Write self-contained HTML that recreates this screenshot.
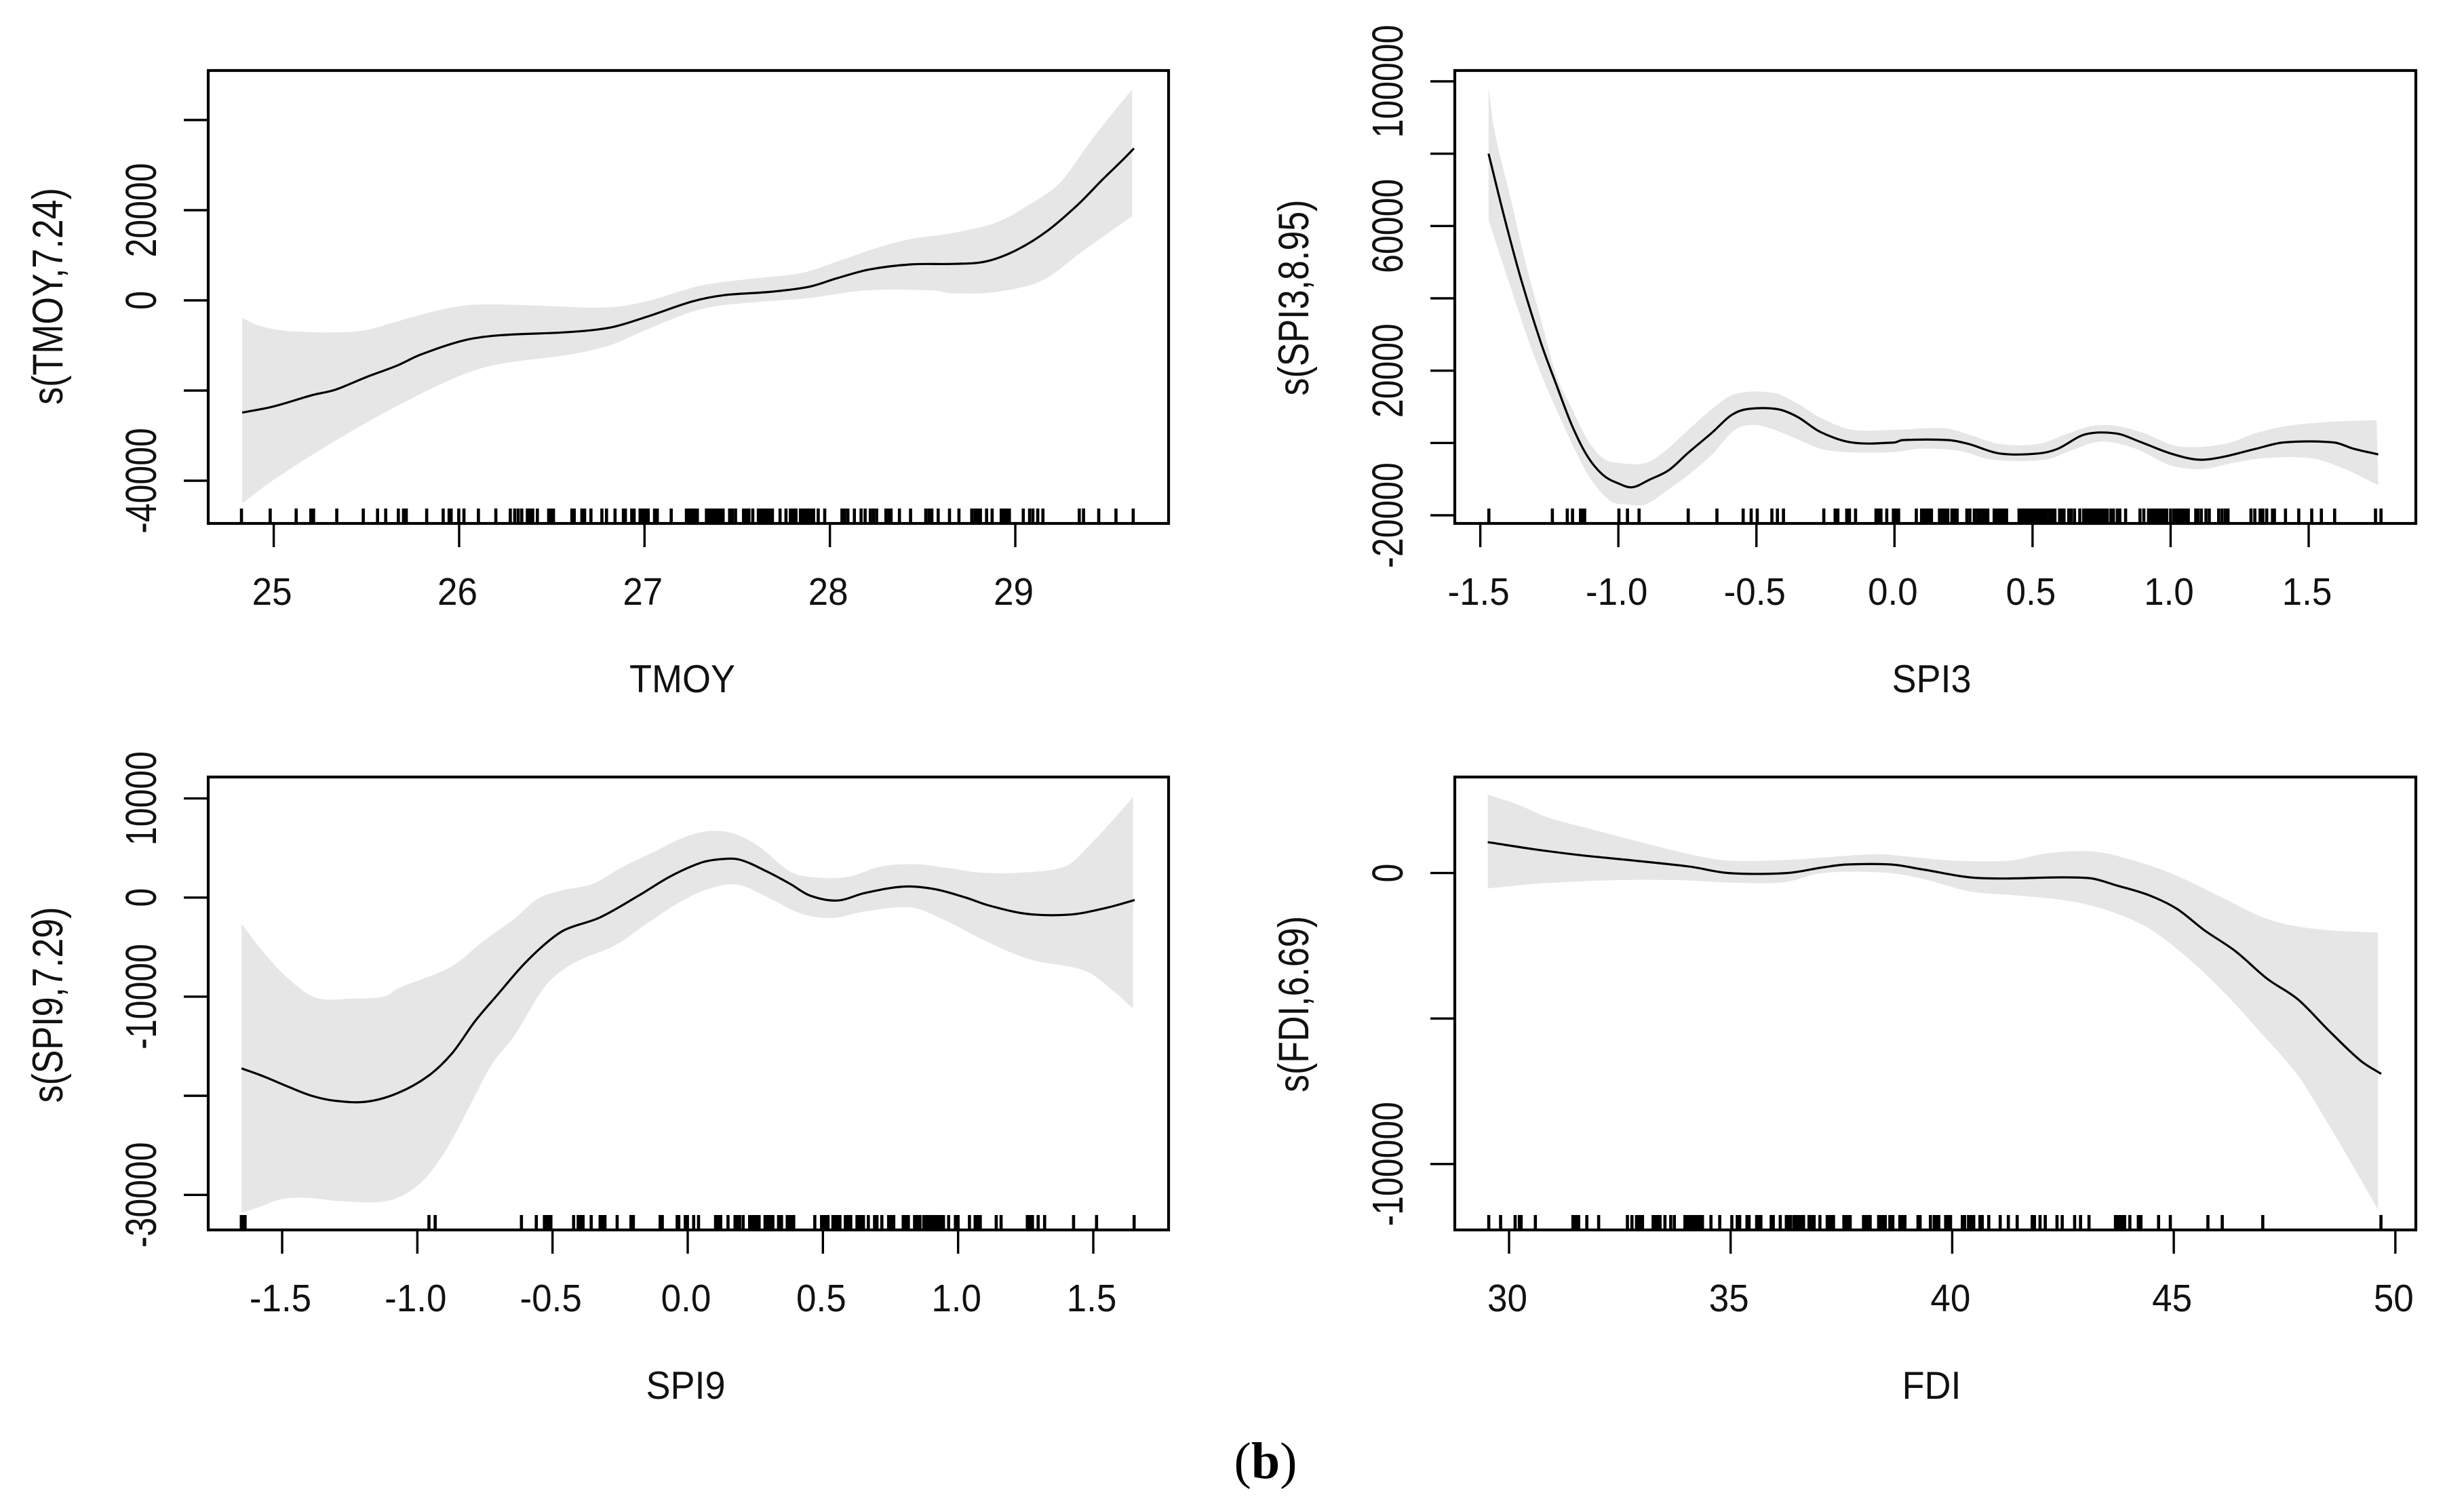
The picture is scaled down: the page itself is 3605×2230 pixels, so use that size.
<!DOCTYPE html>
<html lang="en">
<head>
<meta charset="utf-8">
<title>GAM smooth terms</title>
<style>
html,body{margin:0;padding:0;background:#fff;}
svg{display:block;}
text{font-family:"Liberation Sans",sans-serif;fill:#111;}
</style>
</head>
<body>
<svg id="chart" xmlns="http://www.w3.org/2000/svg" width="3605" height="2230" viewBox="0 0 3605 2230">
  <rect width="3605" height="2230" fill="#fff"/>
  <g id="panel-tmoy"></g>
  <g id="panel-spi3"></g>
  <g id="panel-spi9"></g>
  <g id="panel-fdi"></g>

  <text x="1006" y="1021" font-size="54" text-anchor="middle" transform="translate(1006 1021) scale(1 1.07) translate(-1006 -1021)">TMOY</text>
  <text x="2848" y="1021" font-size="54" text-anchor="middle" transform="translate(2848 1021) scale(1 1.07) translate(-2848 -1021)">SPI3</text>
  <text x="1011" y="2063" font-size="54" text-anchor="middle" transform="translate(1011 2063) scale(1 1.07) translate(-1011 -2063)">SPI9</text>
  <text x="2848" y="2063" font-size="54" text-anchor="middle" transform="translate(2848 2063) scale(1 1.07) translate(-2848 -2063)">FDI</text>

  <text font-size="52" text-anchor="middle" transform="translate(92 437) rotate(-90) scale(1 1.22)">s(TMOY,7.24)</text>
  <text font-size="52" text-anchor="middle" transform="translate(1929 439) rotate(-90) scale(1 1.22)">s(SPI3,8.95)</text>
  <text font-size="52" text-anchor="middle" transform="translate(92 1482) rotate(-90) scale(1 1.22)">s(SPI9,7.29)</text>
  <text font-size="52" text-anchor="middle" transform="translate(1929 1481) rotate(-90) scale(1 1.22)">s(FDI,6.69)</text>

  <text x="1866" y="2180" font-size="76" text-anchor="middle" style="font-family:'Liberation Serif',serif;fill:#000">(<tspan font-weight="bold">b</tspan>)</text>
</svg>
<script>
// ---------- TMOY ----------
const tmoyXTicks = [25, 26, 27, 28, 29];
const tmoyYTicks = [-40000, -20000, 0, 20000, 40000];
const tmoyYLabels = [-40000, 0, 20000];
const tmoyFitX = [24.83,25.0,25.21,25.33,25.5,25.67,25.79,26.02,26.21,26.59,26.82,27.01,27.26,27.43,27.68,27.89,28.04,28.21,28.44,28.67,28.84,29.0,29.17,29.34,29.47,29.57,29.64];
const tmoyFit = [-24900,-23520,-21000,-19845,-17010,-14385,-12075,-8925,-7770,-7035,-5985,-3675,-210,1155,1890,3045,4935,6825,7980,8085,8610,11025,15330,21315,26775,30765,33705];
const tmoyUpperX = [24.83,24.91,25.08,25.46,25.67,25.90,26.09,26.42,26.80,27.01,27.30,27.56,27.85,28.06,28.27,28.44,28.67,28.90,29.07,29.24,29.40,29.53,29.63];
const tmoyUpper = [-3885,-5460,-6825,-6825,-4620,-2100,-945,-1155,-1575,-210,3255,4725,6090,8925,11865,13650,15015,17325,21105,26040,34965,41790,46725];
const tmoyLowerX = [24.83,25.0,25.33,25.67,26.0,26.21,26.59,26.82,27.01,27.30,27.56,27.89,28.19,28.56,28.65,28.90,29.15,29.36,29.63];
const tmoyLower = [-45045,-39795,-31185,-23310,-16800,-14175,-12075,-9870,-6510,-1995,-525,525,2205,2205,1575,1890,4515,10815,18690];
const tmoyRug = [24.826,24.981,25.121,25.200,25.215,25.340,25.483,25.560,25.604,25.672,25.700,25.715,25.825,25.914,25.946,25.957,25.998,26.026,26.104,26.198,26.276,26.300,26.319,26.338,26.368,26.382,26.397,26.422,26.483,26.498,26.509,26.608,26.621,26.662,26.677,26.711,26.770,26.795,26.841,26.886,26.897,26.931,26.944,26.976,26.991,27.006,27.020,27.054,27.069,27.144,27.226,27.241,27.256,27.271,27.285,27.334,27.349,27.364,27.379,27.394,27.409,27.424,27.459,27.474,27.491,27.534,27.549,27.563,27.584,27.614,27.629,27.644,27.659,27.674,27.690,27.731,27.763,27.787,27.802,27.817,27.841,27.856,27.871,27.886,27.901,27.912,27.937,27.972,28.065,28.080,28.097,28.132,28.168,28.190,28.218,28.235,28.252,28.302,28.319,28.330,28.375,28.435,28.517,28.534,28.550,28.584,28.645,28.696,28.765,28.782,28.797,28.812,28.845,28.875,28.924,28.939,28.953,28.968,29.043,29.077,29.095,29.121,29.149,29.345,29.368,29.450,29.543,29.636];

// ---------- SPI3 ----------
const spi3XTicks = [-1.5, -1.0, -0.5, 0.0, 0.5, 1.0, 1.5];
const spi3YTicks = [-20000, 0, 20000, 40000, 60000, 80000, 100000];
const spi3YLabels = [-20000, 20000, 60000, 100000];
const spi3FitX = [-1.470,-1.408,-1.352,-1.282,-1.225,-1.169,-1.113,-1.056,-1.0,-0.949,-0.887,-0.817,-0.746,-0.662,-0.592,-0.535,-0.423,-0.352,-0.268,-0.155,0,0.028,0.197,0.268,0.380,0.521,0.592,0.690,0.803,0.887,1.0,1.099,1.183,1.310,1.408,1.592,1.662,1.752];
const spi3Fit = [80013,60931,45139,28031,16187,5001,-3553,-8817,-11186,-12239,-10133,-7501,-2632,2764,7633,9344,9344,7238,3027,132,132,790,790,-263,-2895,-2895,-1579,2369,2632,395,-2895,-4606,-3948,-1579,132,132,-1579,-3158];
const spi3UpperX = [-1.470,-1.451,-1.394,-1.338,-1.282,-1.225,-1.169,-1.113,-1.056,-1.0,-0.901,-0.831,-0.746,-0.662,-0.577,-0.437,-0.352,-0.268,-0.155,0.014,0.183,0.268,0.380,0.521,0.620,0.718,0.803,0.901,1.028,1.197,1.310,1.423,1.592,1.746];
const spi3Upper = [98700,87251,68827,50403,34611,18819,9607,1053,-4211,-5527,-5527,-2237,3685,9344,13555,13818,10923,6975,3685,3685,4080,2369,-263,-263,2369,4738,4738,2764,-921,-263,2764,4738,5922,6317];
const spi3LowerX = [-1.470,-1.394,-1.324,-1.268,-1.211,-1.155,-1.099,-1.028,-0.972,-0.901,-0.817,-0.746,-0.662,-0.577,-0.507,-0.437,-0.352,-0.268,-0.183,0,0.099,0.239,0.352,0.549,0.634,0.746,0.873,1.0,1.113,1.225,1.338,1.507,1.620,1.752];
const spi3Lower = [61589,43823,28031,16845,6975,-2237,-10133,-16055,-16976,-16976,-12765,-8817,-3290,3685,5001,3685,1053,-1579,-2500,-2500,-1579,-2237,-4606,-4606,-2237,395,-1579,-6185,-7238,-5527,-4211,-4211,-6843,-11712];
const spi3Rug = [-1.469,-1.239,-1.185,-1.166,-1.137,-1.128,-1.122,-0.998,-0.967,-0.925,-0.747,-0.643,-0.548,-0.519,-0.497,-0.444,-0.424,-0.402,-0.256,-0.215,-0.205,-0.173,-0.163,-0.141,-0.067,-0.058,-0.049,-0.028,-0.004,0.006,0.015,0.079,0.098,0.106,0.115,0.125,0.134,0.163,0.174,0.184,0.193,0.208,0.217,0.227,0.262,0.273,0.289,0.300,0.309,0.319,0.328,0.338,0.361,0.371,0.380,0.390,0.399,0.406,0.451,0.461,0.470,0.480,0.489,0.499,0.508,0.517,0.527,0.536,0.546,0.551,0.562,0.572,0.581,0.598,0.607,0.614,0.631,0.640,0.652,0.671,0.685,0.695,0.704,0.714,0.723,0.733,0.742,0.752,0.761,0.771,0.784,0.793,0.807,0.816,0.837,0.889,0.903,0.920,0.929,0.939,0.948,0.957,0.967,0.976,0.986,1.000,1.012,1.021,1.031,1.040,1.050,1.059,1.064,1.091,1.099,1.111,1.128,1.140,1.174,1.186,1.198,1.208,1.291,1.305,1.324,1.334,1.348,1.369,1.376,1.416,1.464,1.511,1.546,1.594,1.742,1.762];

// ---------- SPI9 ----------
const spi9XTicks = [-1.5, -1.0, -0.5, 0.0, 0.5, 1.0, 1.5];
const spi9YTicks = [-30000, -20000, -10000, 0, 10000];
const spi9YLabels = [-30000, -10000, 0, 10000];
const spi9FitX = [-1.650,-1.564,-1.477,-1.391,-1.304,-1.189,-1.074,-0.959,-0.872,-0.786,-0.700,-0.613,-0.527,-0.455,-0.325,-0.181,-0.066,0.049,0.121,0.193,0.294,0.380,0.452,0.553,0.654,0.798,0.913,1.028,1.114,1.258,1.417,1.546,1.653];
const spi9Fit = [-17236,-18090,-19095,-20000,-20502,-20603,-19748,-17990,-15728,-12462,-9698,-6935,-4673,-3266,-2010,201,2111,3518,3869,3819,2613,1357,201,-302,452,1106,854,0,-804,-1658,-1709,-1055,-251];
const spi9UpperX = [-1.650,-1.564,-1.477,-1.376,-1.247,-1.117,-1.074,-0.872,-0.757,-0.642,-0.556,-0.469,-0.354,-0.239,-0.124,-0.009,0.092,0.179,0.265,0.380,0.481,0.596,0.711,0.841,0.956,1.086,1.229,1.402,1.489,1.575,1.647];
const spi9Upper = [-2663,-5678,-8191,-10100,-10201,-9950,-9196,-6935,-4422,-2161,-151,704,1357,3116,4623,6131,6734,6382,5126,2613,2010,2111,3116,3367,3015,2513,2513,3216,5377,7889,10151];
const spi9LowerX = [-1.650,-1.592,-1.506,-1.405,-1.276,-1.103,-0.988,-0.901,-0.815,-0.728,-0.642,-0.527,-0.426,-0.268,-0.153,-0.009,0.107,0.193,0.308,0.423,0.538,0.654,0.826,0.942,1.086,1.258,1.474,1.575,1.647];
const spi9Lower = [-31808,-31306,-30452,-30301,-30653,-30552,-28793,-25778,-21507,-16985,-13970,-8945,-6683,-4824,-2663,-151,1106,1256,-151,-1658,-2060,-1407,-1005,-2161,-4171,-6181,-7437,-9447,-11206];
const spi9Rug = [-1.651,-1.643,-1.637,-0.957,-0.934,-0.615,-0.560,-0.530,-0.521,-0.512,-0.506,-0.422,-0.405,-0.396,-0.387,-0.357,-0.324,-0.315,-0.306,-0.261,-0.210,-0.201,-0.102,-0.094,-0.039,-0.033,-0.009,-0.001,0.022,0.040,0.103,0.112,0.122,0.149,0.175,0.185,0.192,0.205,0.229,0.239,0.249,0.258,0.264,0.286,0.296,0.306,0.315,0.336,0.347,0.368,0.378,0.388,0.392,0.470,0.495,0.505,0.514,0.519,0.537,0.547,0.557,0.563,0.583,0.593,0.603,0.626,0.635,0.645,0.650,0.668,0.691,0.700,0.718,0.743,0.752,0.762,0.797,0.807,0.816,0.839,0.849,0.859,0.873,0.883,0.892,0.902,0.912,0.921,0.931,0.941,0.946,0.965,0.990,1.000,1.042,1.063,1.072,1.082,1.141,1.159,1.256,1.266,1.275,1.296,1.320,1.427,1.512,1.651];

// ---------- FDI ----------
const fdiXTicks = [30, 35, 40, 45, 50];
const fdiYTicks = [-100000, -50000, 0];
const fdiYLabels = [-100000, 0];
const fdiFitX = [29.52,30.55,31.60,32.83,34.07,34.95,36.27,37.06,37.59,38.64,39.35,40.58,43.05,43.75,44.45,45.07,45.69,46.39,47.10,47.80,48.50,49.21,49.68];
const fdiFit = [10596,8203,6152,4273,2222,0,0,1880,2905,2905,1196,-1709,-1709,-4443,-7691,-12305,-19654,-26831,-36231,-43409,-54175,-64429,-69044];
const fdiUpperX = [29.52,30.19,30.90,31.95,33.01,34.07,34.95,36.18,37.06,38.29,39.0,40.05,41.29,42.17,43.22,44.10,44.98,46.04,47.10,48.15,49.61];
const fdiUpper = [27002,23584,18970,14697,10425,6494,4273,4443,5298,6494,5640,4273,4273,6836,7349,4273,-342,-8032,-15723,-19141,-20508];
const fdiLowerX = [29.52,30.55,32.13,33.71,34.95,36.18,37.06,38.47,39.35,40.40,41.46,42.69,43.57,44.45,45.33,46.21,46.92,47.80,48.50,49.03,49.61];
const fdiLower = [-5298,-3760,-2564,-2393,-3247,-3247,0,171,-2051,-6323,-7691,-9741,-13159,-19141,-29395,-42212,-54175,-69556,-86646,-100318,-115699];
const fdiRug = [29.542,29.809,30.137,30.232,30.273,30.594,31.441,31.496,31.551,31.571,31.755,32.022,32.671,32.773,32.876,32.930,32.985,33.012,33.251,33.306,33.361,33.408,33.518,33.648,33.730,33.969,34.037,34.092,34.146,34.201,34.255,34.310,34.365,34.556,34.754,35.027,35.150,35.205,35.369,35.417,35.587,35.642,35.683,35.915,35.963,36.120,36.257,36.311,36.352,36.428,36.482,36.537,36.592,36.646,36.769,36.824,36.885,37.015,37.179,37.234,37.288,37.322,37.555,37.609,37.664,37.698,37.999,38.053,38.108,38.149,38.340,38.395,38.449,38.490,38.593,38.661,38.818,38.873,38.934,39.228,39.276,39.508,39.594,39.653,39.698,39.852,39.911,39.963,40.228,40.280,40.368,40.427,40.486,40.626,40.678,40.825,41.083,41.267,41.466,41.805,41.857,41.982,42.100,42.365,42.483,42.763,42.896,43.087,43.684,43.743,43.802,43.861,43.891,44.009,44.200,44.259,44.657,44.922,45.770,46.094,47.008,49.675];

const NS = 'http://www.w3.org/2000/svg';

function linearScale(d0, d1, r0, r1) {
  return function (v) { return r0 + (v - d0) * (r1 - r0) / (d1 - d0); };
}

function make(parent, tag, attrs) {
  const node = document.createElementNS(NS, tag);
  Object.keys(attrs).forEach(function (k) { node.setAttribute(k, attrs[k]); });
  parent.appendChild(node);
  return node;
}

// Smooth cubic Hermite segments through the points, as SVG path commands.
function smoothSegments(pts) {
  const n = pts.length;
  const slope = pts.map(function (p, i) {
    const a = pts[Math.max(i - 1, 0)];
    const b = pts[Math.min(i + 1, n - 1)];
    return (b[1] - a[1]) / (b[0] - a[0]);
  });
  let out = '';
  for (let i = 0; i < n - 1; i++) {
    const dx = (pts[i + 1][0] - pts[i][0]) / 3;
    const c1x = pts[i][0] + dx;
    const c1y = pts[i][1] + slope[i] * dx;
    const c2x = pts[i + 1][0] - dx;
    const c2y = pts[i + 1][1] - slope[i + 1] * dx;
    out += 'C' + c1x.toFixed(1) + ' ' + c1y.toFixed(1) + ' ' + c2x.toFixed(1) + ' ' + c2y.toFixed(1) + ' ' + pts[i + 1][0].toFixed(1) + ' ' + pts[i + 1][1].toFixed(1);
  }
  return out;
}

function toPoints(xs, ys, sx, sy) {
  return xs.map(function (x, i) { return [sx(x), sy(ys[i])]; });
}

function startAt(p) {
  return p[0].toFixed(1) + ' ' + p[1].toFixed(1);
}

function drawPanel(cfg) {
  const g = document.getElementById(cfg.id);
  const sx = cfg.sx;
  const sy = cfg.sy;
  const box = cfg.box;

  // confidence band
  const upperPts = toPoints(cfg.upperX, cfg.upper, sx, sy);
  const lowerPts = toPoints(cfg.lowerX, cfg.lower, sx, sy).reverse();
  const bandPath = 'M' + startAt(upperPts[0]) + smoothSegments(upperPts) + 'L' + startAt(lowerPts[0]) + smoothSegments(lowerPts) + 'Z';
  const band = make(g, 'path', { d: bandPath, fill: '#e6e6e6', stroke: 'none' });
  
  

  // fitted smooth
  const fitPts = toPoints(cfg.fitX, cfg.fit, sx, sy);
  const curve = make(g, 'path', { d: 'M' + startAt(fitPts[0]) + smoothSegments(fitPts), fill: 'none', stroke: '#000', 'stroke-width': 3.2, 'stroke-linejoin': 'round' });
  
  

  // rug
  cfg.rug.forEach(function (v) {
    const tick = make(g, 'line', { x1: sx(v), x2: sx(v), y1: box.bottom - 22, y2: box.bottom, stroke: '#000', 'stroke-width': 4.6 });
    
    
  });

  // frame
  const frame = make(g, 'rect', { x: box.left, y: box.top, width: box.right - box.left, height: box.bottom - box.top, fill: 'none', stroke: '#000', 'stroke-width': 4.2 });
  
  

  // x axis
  cfg.xTicks.forEach(function (v) {
    const px = sx(v);
    const tick = make(g, 'line', { x1: px, x2: px, y1: box.bottom, y2: box.bottom + 35, stroke: '#000', 'stroke-width': 3.4 });
    
    
    const baseline = box.bottom + 120;
    const label = make(g, 'text', { 'font-size': 53, 'text-anchor': 'middle', transform: 'translate(' + (px - 2.5) + ' ' + baseline + ') scale(1 1.07)' });
    label.textContent = v.toFixed(cfg.xDecimals);
    
    
  });

  // y axis
  cfg.yTicks.forEach(function (v) {
    const py = sy(v);
    const tick = make(g, 'line', { x1: box.left - 36, x2: box.left, y1: py, y2: py, stroke: '#000', 'stroke-width': 3.4 });
    
    
  });
  cfg.yLabels.forEach(function (v) {
    const label = make(g, 'text', { 'font-size': 50, 'text-anchor': 'middle', transform: 'translate(' + cfg.yLabelX + ' ' + sy(v) + ') rotate(-90) scale(1 1.28)' });
    label.textContent = String(v);
    
    
  });
}

drawPanel({
  id: 'panel-tmoy',
  box: { left: 307, right: 1723, top: 104, bottom: 772 },
  sx: linearScale(25, 29, 403.6, 1497),
  sy: linearScale(-40000, 40000, 709, 177),
  xDecimals: 0, yLabelX: 230,
  xTicks: tmoyXTicks, yTicks: tmoyYTicks, yLabels: tmoyYLabels,
  fitX: tmoyFitX, fit: tmoyFit, upperX: tmoyUpperX, upper: tmoyUpper, lowerX: tmoyLowerX, lower: tmoyLower, rug: tmoyRug
});
drawPanel({
  id: 'panel-spi3',
  box: { left: 2145, right: 3562, top: 104, bottom: 772 },
  sx: linearScale(-1.5, 1.5, 2182.6, 3404),
  sy: linearScale(-20000, 100000, 760, 120),
  xDecimals: 1, yLabelX: 2068,
  xTicks: spi3XTicks, yTicks: spi3YTicks, yLabels: spi3YLabels,
  fitX: spi3FitX, fit: spi3Fit, upperX: spi3UpperX, upper: spi3Upper, lowerX: spi3LowerX, lower: spi3Lower, rug: spi3Rug
});
drawPanel({
  id: 'panel-spi9',
  box: { left: 307, right: 1723, top: 1146, bottom: 1814 },
  sx: linearScale(-1.5, 1.5, 416, 1612),
  sy: linearScale(-30000, 10000, 1762.3, 1177.6),
  xDecimals: 1, yLabelX: 230,
  xTicks: spi9XTicks, yTicks: spi9YTicks, yLabels: spi9YLabels,
  fitX: spi9FitX, fit: spi9Fit, upperX: spi9UpperX, upper: spi9Upper, lowerX: spi9LowerX, lower: spi9Lower, rug: spi9Rug
});
drawPanel({
  id: 'panel-fdi',
  box: { left: 2145, right: 3562, top: 1146, bottom: 1814 },
  sx: linearScale(30, 50, 2225, 3531.8),
  sy: linearScale(-100000, 0, 1716.8, 1287.6),
  xDecimals: 0, yLabelX: 2068,
  xTicks: fdiXTicks, yTicks: fdiYTicks, yLabels: fdiYLabels,
  fitX: fdiFitX, fit: fdiFit, upperX: fdiUpperX, upper: fdiUpper, lowerX: fdiLowerX, lower: fdiLower, rug: fdiRug
});
</script>
</body>
</html>
